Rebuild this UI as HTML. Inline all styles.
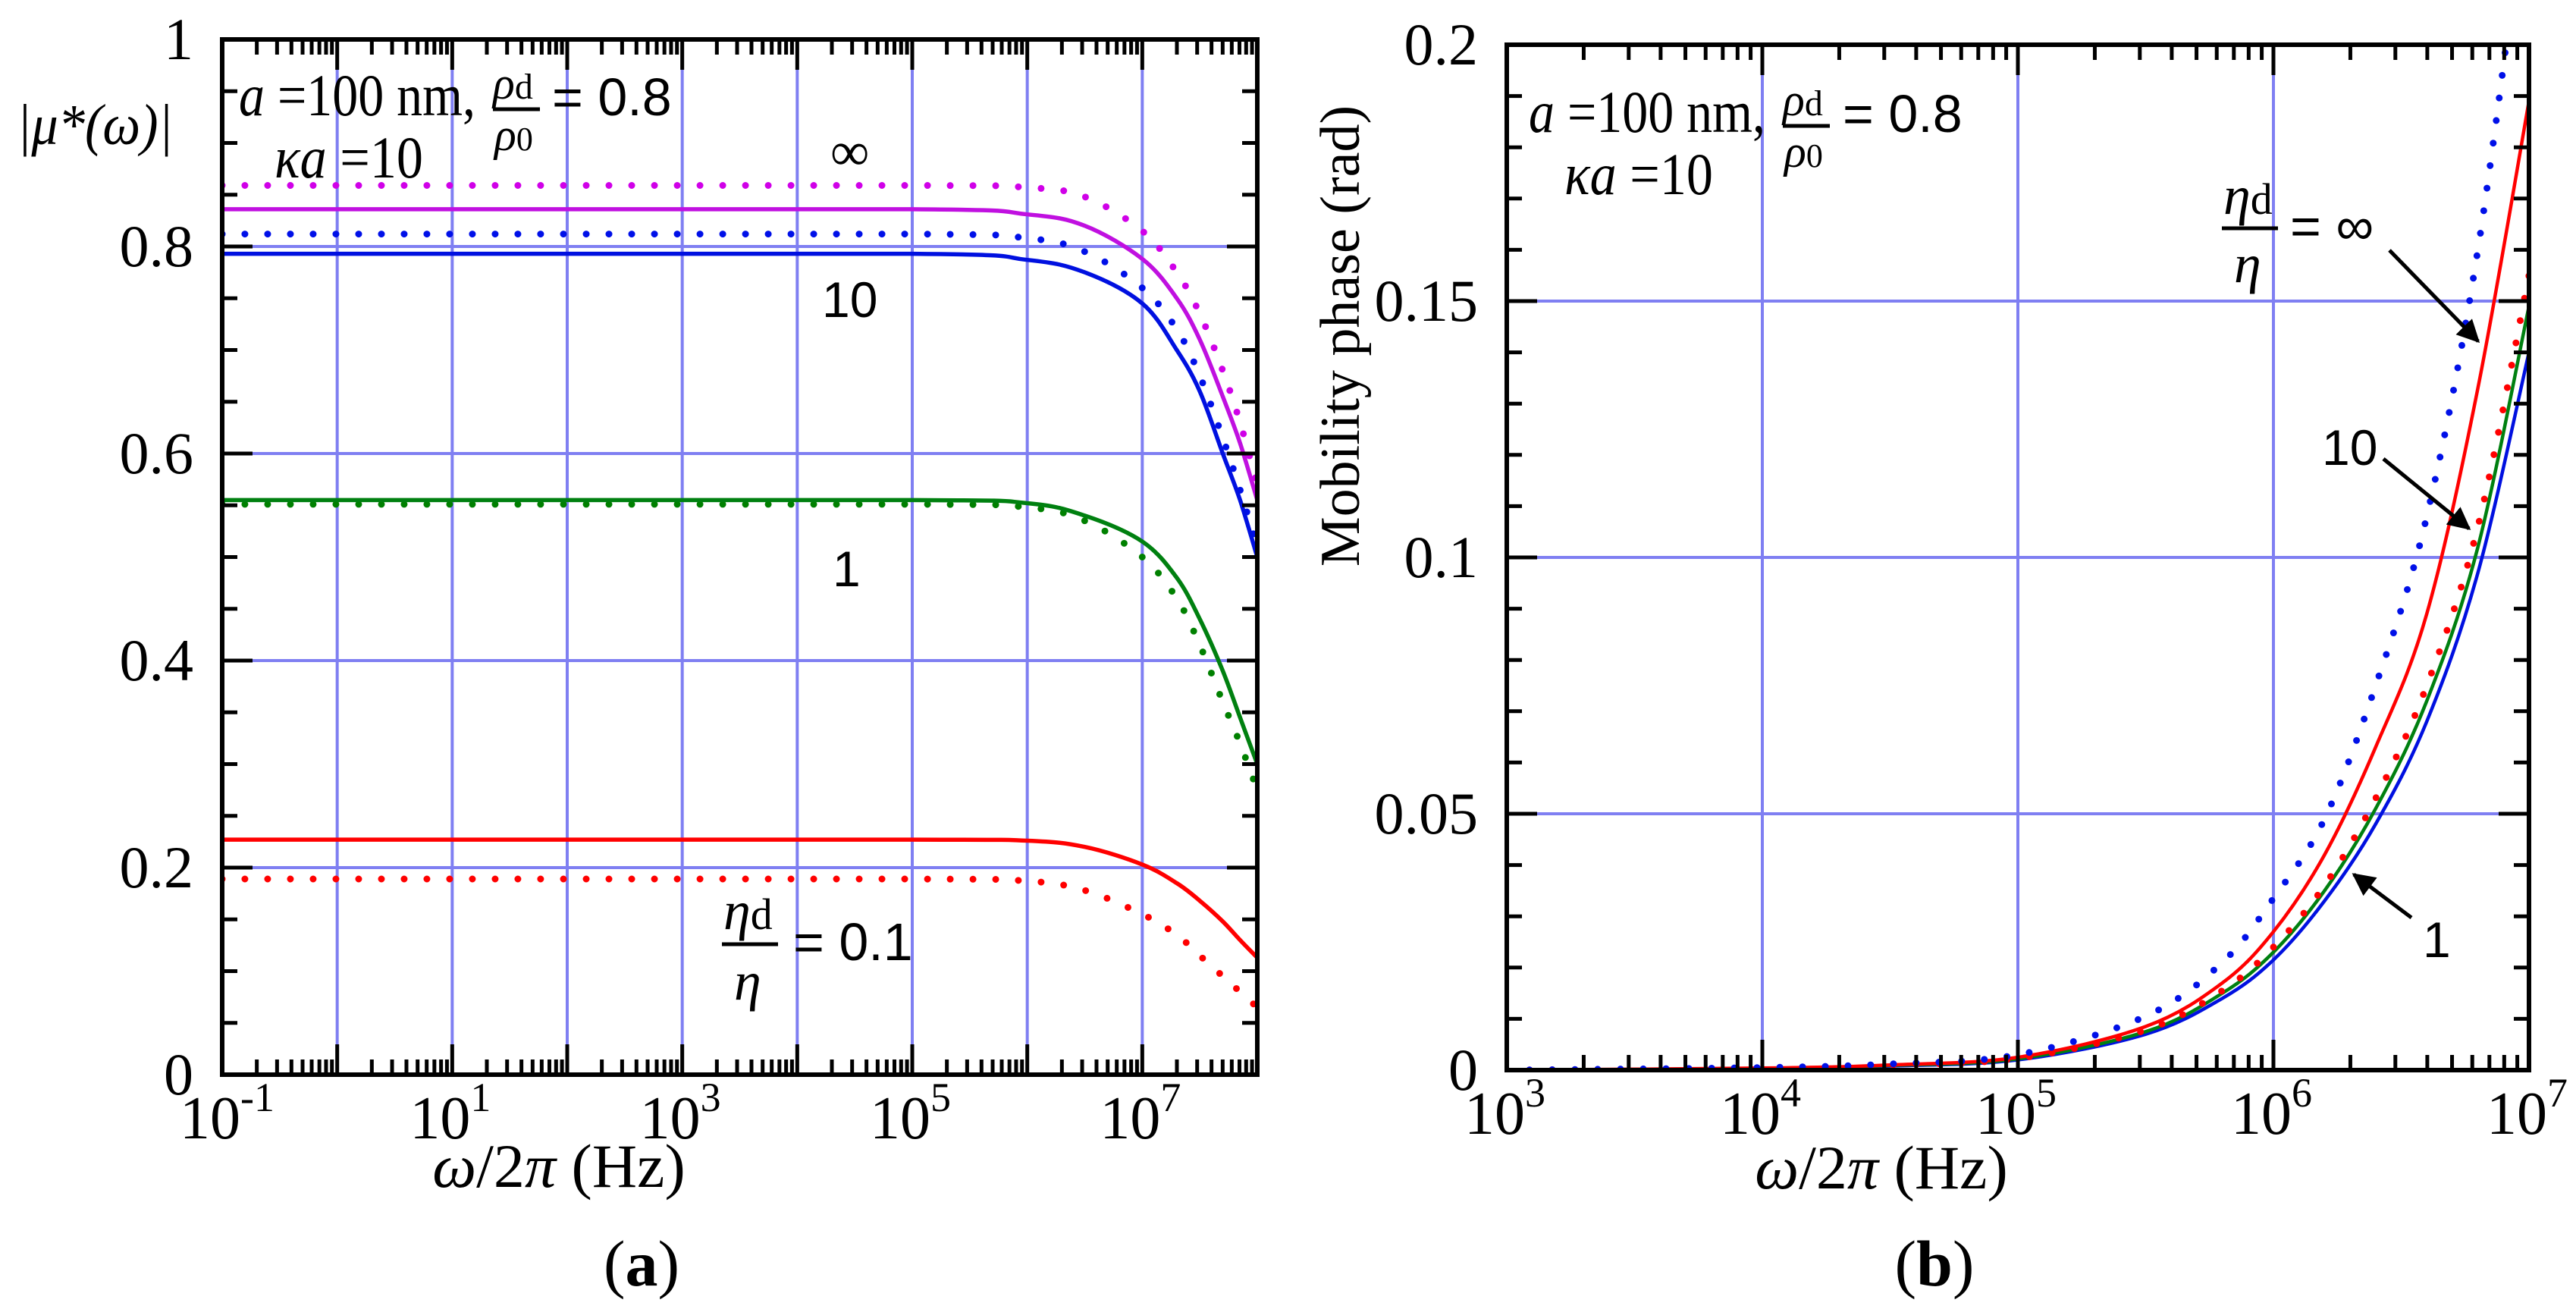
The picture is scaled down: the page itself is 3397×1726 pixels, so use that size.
<!DOCTYPE html>
<html><head><meta charset="utf-8">
<style>
html,body{margin:0;padding:0;background:#fff;}
svg{display:block;}
.serif{font-family:"Liberation Serif",serif;}
.sans{font-family:"Liberation Sans",sans-serif;}
</style></head>
<body>
<svg id="fig" width="3397" height="1726" viewBox="0 0 3397 1726" xmlns="http://www.w3.org/2000/svg">
<defs>
<marker id="ah" viewBox="0 0 10 10" refX="9" refY="5" markerWidth="6" markerHeight="6" orient="auto"><path d="M0,0 L10,5 L0,10 z" fill="#000"/></marker>
</defs>
<g id="gridA"></g>
<g id="seriesA"></g>
<g id="axesA"></g>
<g id="gridB"></g>
<g id="seriesB"></g>
<g id="axesB"></g>

<!-- Panel (a) text -->
<text class="serif" x="22" y="190" font-size="76" font-style="italic" textLength="206" lengthAdjust="spacingAndGlyphs">|μ*(ω)|</text>
<text class="serif" x="315" y="152" font-size="78" textLength="312" lengthAdjust="spacingAndGlyphs"><tspan font-style="italic">a</tspan> =100 nm,</text>
<text class="serif" x="650" y="130" font-size="60" font-style="italic">ρ<tspan font-style="normal" font-size="48">d</tspan></text>
<line x1="650" y1="144" x2="712" y2="144" stroke="#000" stroke-width="5"/>
<text class="serif" x="652" y="198" font-size="60" font-style="italic">ρ<tspan font-style="normal" font-size="44">0</tspan></text>
<text class="sans" x="728" y="152" font-size="70">= 0.8</text>
<text class="serif" x="362" y="234" font-size="78" textLength="196" lengthAdjust="spacingAndGlyphs"><tspan font-style="italic">κa</tspan> =10</text>
<text class="serif" x="1095" y="224" font-size="72">∞</text>
<text class="sans" x="1084" y="418" font-size="66">10</text>
<text class="sans" x="1098" y="773" font-size="66">1</text>
<text class="serif" x="954" y="1225" font-size="72" font-style="italic">η<tspan font-style="normal" font-size="58">d</tspan></text>
<line x1="952" y1="1245" x2="1026" y2="1245" stroke="#000" stroke-width="5"/>
<text class="serif" x="968" y="1318" font-size="72" font-style="italic">η</text>
<text class="sans" x="1046" y="1266" font-size="70">= 0.1</text>
<text class="serif" x="737" y="1565" font-size="82" text-anchor="middle"><tspan font-style="italic">ω</tspan>/2<tspan font-style="italic">π</tspan> (Hz)</text>
<text class="serif" x="846" y="1695" font-size="86" text-anchor="middle">(<tspan font-weight="bold">a</tspan>)</text>

<!-- Panel (b) text -->
<text class="serif" x="0" y="0" font-size="74" text-anchor="middle" transform="translate(1792,443) rotate(-90)">Mobility phase (rad)</text>
<text class="serif" x="2016" y="174" font-size="78" textLength="312" lengthAdjust="spacingAndGlyphs"><tspan font-style="italic">a</tspan> =100 nm,</text>
<text class="serif" x="2351" y="152" font-size="60" font-style="italic">ρ<tspan font-style="normal" font-size="48">d</tspan></text>
<line x1="2351" y1="166" x2="2413" y2="166" stroke="#000" stroke-width="5"/>
<text class="serif" x="2353" y="220" font-size="60" font-style="italic">ρ<tspan font-style="normal" font-size="44">0</tspan></text>
<text class="sans" x="2430" y="174" font-size="70">= 0.8</text>
<text class="serif" x="2063" y="256" font-size="78" textLength="196" lengthAdjust="spacingAndGlyphs"><tspan font-style="italic">κa</tspan> =10</text>
<text class="serif" x="2932" y="282" font-size="72" font-style="italic">η<tspan font-style="normal" font-size="58">d</tspan></text>
<line x1="2930" y1="301" x2="3004" y2="301" stroke="#000" stroke-width="5"/>
<text class="serif" x="2946" y="372" font-size="72" font-style="italic">η</text>
<text class="sans" x="3020" y="322" font-size="70">= ∞</text>
<line x1="3151" y1="330" x2="3268" y2="450" stroke="#000" stroke-width="5" marker-end="url(#ah)"/>
<text class="sans" x="3062" y="613" font-size="66">10</text>
<line x1="3143" y1="605" x2="3256" y2="697" stroke="#000" stroke-width="5" marker-end="url(#ah)"/>
<text class="sans" x="3195" y="1262" font-size="66">1</text>
<line x1="3180" y1="1210" x2="3104" y2="1153" stroke="#000" stroke-width="5" marker-end="url(#ah)"/>
<text class="serif" x="2481" y="1567" font-size="82" text-anchor="middle"><tspan font-style="italic">ω</tspan>/2<tspan font-style="italic">π</tspan> (Hz)</text>
<text class="serif" x="2551" y="1695" font-size="86" text-anchor="middle">(<tspan font-weight="bold">b</tspan>)</text>
</svg>
<script>
// ---- Panel (a) data: |mu*| vs log10(f) ----
const aLogF = [-1, 5, 6, 6.5, 7, 7.3, 7.5, 7.7, 7.85, 8];
const aMagSolid = [0.836, 0.836, 0.831, 0.82, 0.788, 0.75, 0.71, 0.655, 0.61, 0.555];
const aMagDot   = [0.859, 0.859, 0.857, 0.848, 0.815, 0.775, 0.735, 0.68, 0.63, 0.57];
const aBlueSolid= [0.793, 0.793, 0.787, 0.775, 0.745, 0.70, 0.66, 0.60, 0.555, 0.50];
const aBlueDot  = [0.812, 0.812, 0.808, 0.795, 0.76, 0.72, 0.675, 0.615, 0.565, 0.51];
const aGreenSolid=[0.555, 0.555, 0.552, 0.54, 0.515, 0.48, 0.44, 0.39, 0.345, 0.30];
const aGreenDot = [0.551, 0.551, 0.548, 0.535, 0.50, 0.46, 0.415, 0.36, 0.32, 0.275];
const aRedSolid = [0.227, 0.227, 0.226, 0.22, 0.203, 0.185, 0.168, 0.148, 0.13, 0.113];
const aRedDot   = [0.189, 0.189, 0.187, 0.178, 0.155, 0.135, 0.115, 0.095, 0.08, 0.065];
const aYTicks = ["0","0.2","0.4","0.6","0.8","1"];
const aXLabelExp = ["-1","1","3","5","7"];

// ---- Panel (b) data: phase vs log10(f) ----
const bLogF = [3, 4, 4.5, 5, 5.5, 5.8, 6, 6.2, 6.4, 6.6, 6.8, 7];
const bBlueDot  = [0, 0.0005, 0.0012, 0.003, 0.0105, 0.021, 0.0335, 0.049, 0.075, 0.108, 0.16, 0.235];
const bRedSolid = [0, 0.0004, 0.001, 0.0025, 0.0085, 0.017, 0.027, 0.042, 0.063, 0.089, 0.133, 0.189];
const bRedDot   = [0, 0.0004, 0.001, 0.0023, 0.0078, 0.0155, 0.024, 0.036, 0.053, 0.075, 0.106, 0.155];
const bGreenSolid=[0, 0.0003, 0.0009, 0.0022, 0.0075, 0.015, 0.023, 0.035, 0.051, 0.072, 0.102, 0.149];
const bBlueSolid= [0, 0.0003, 0.0008, 0.002, 0.007, 0.014, 0.0215, 0.033, 0.048, 0.068, 0.097, 0.14];
const bYTicks = ["0","0.05","0.1","0.15","0.2"];
const bXLabelExp = ["3","4","5","6","7"];

const NS = "http://www.w3.org/2000/svg";
const GRID = "#7f7ff2";
function mk(tag, attrs, parent){const e=document.createElementNS(NS,tag);for(const k in attrs)e.setAttribute(k,attrs[k]);parent.appendChild(e);return e;}
// monotone-ish Catmull-Rom smoothing
function smooth(pts){
  let d="M"+pts[0][0].toFixed(1)+","+pts[0][1].toFixed(1);
  for(let i=0;i<pts.length-1;i++){
    const p0=pts[Math.max(0,i-1)],p1=pts[i],p2=pts[i+1],p3=pts[Math.min(pts.length-1,i+2)];
    const t=1/6;
    let c1=[p1[0]+(p2[0]-p0[0])*t,p1[1]+(p2[1]-p0[1])*t];
    let c2=[p2[0]-(p3[0]-p1[0])*t,p2[1]-(p3[1]-p1[1])*t];
    c1[0]=Math.min(Math.max(c1[0],p1[0]),p2[0]); c2[0]=Math.min(Math.max(c2[0],p1[0]),p2[0]);
    const lo=Math.min(p1[1],p2[1]),hi=Math.max(p1[1],p2[1]);
    c1[1]=Math.min(Math.max(c1[1],lo),hi); c2[1]=Math.min(Math.max(c2[1],lo),hi);
    d+=`C${c1[0].toFixed(1)},${c1[1].toFixed(1)} ${c2[0].toFixed(1)},${c2[1].toFixed(1)} ${p2[0].toFixed(1)},${p2[1].toFixed(1)}`;
  }
  return d;
}

function panel(o){
  const xs = v => o.x0 + (v - o.xmin)/(o.xmax - o.xmin)*(o.x1 - o.x0);
  const ys = v => o.y1 - (v - o.ymin)/(o.ymax - o.ymin)*(o.y1 - o.y0);
  const grid = document.getElementById(o.grid), ax = document.getElementById(o.axes), ser = document.getElementById(o.series);
  for(let d=Math.ceil(o.xmin); d<o.xmax; d++){ if(d<=o.xmin) continue;
    const l=mk("line",{x1:xs(d),x2:xs(d),y1:o.y0,y2:o.y1,stroke:GRID,"stroke-width":4},grid);
    
    
  }
  o.yt.forEach(t=>{const v=parseFloat(t); if(v<=o.ymin||v>=o.ymax) return;
    const l=mk("line",{x1:o.x0,x2:o.x1,y1:ys(v),y2:ys(v),stroke:GRID,"stroke-width":4},grid);
    
    
  });
  o.ser.forEach(s=>{
    const pts=s.v.map((v,i)=>[xs(o.lx[i]),ys(v)]);
    const a={d:smooth(pts),fill:"none",stroke:s.c,"stroke-width":s.dot?9:o.lw,"stroke-linejoin":"round","clip-path":"url(#"+o.clip+")"};
    if(s.dot){a["stroke-dasharray"]="0 30";a["stroke-linecap"]="round";}
    const p=mk("path",a,ser);
    
    
  });
  let td="";
  for(let d=Math.floor(o.xmin); d<o.xmax; d++){
    for(let m=1;m<10;m++){const lv=d+Math.log10(m); if(lv<o.xmin-1e-9||lv>o.xmax+1e-9) continue;
      const L=(m==1)?40:20; const x=xs(lv);
      td+=`M${x},${o.y1}v${-L}M${x},${o.y0}v${L}`;}
  }
  for(let v=o.ymin; v<=o.ymax+1e-9; v+=o.minor){
    const isMaj=o.yt.some(t=>Math.abs(parseFloat(t)-v)<1e-9); const L=isMaj?40:20; const y=ys(v);
    td+=`M${o.x0},${y}h${L}M${o.x1},${y}h${-L}`;
  }
  const tk=mk("path",{d:td,stroke:"#000","stroke-width":5,fill:"none"},ax);
  
  
  const fr=mk("rect",{x:o.x0,y:o.y0,width:o.x1-o.x0,height:o.y1-o.y0,fill:"none",stroke:"#000","stroke-width":6},ax);
  
  
  o.yt.forEach(t=>{
    const e=mk("text",{x:o.x0-38,y:ys(parseFloat(t))+26,"font-size":78,"text-anchor":"end","font-family":"Liberation Serif, serif"},ax);
    e.textContent=t;
    
    
  });
  o.xl.forEach(ex=>{
    const x=xs(parseFloat(ex));
    const e=mk("text",{x:x-56,y:o.y1+84,"font-size":80,"font-family":"Liberation Serif, serif"},ax);
    e.textContent="10";
    
    
    const s=mk("tspan",{dy:-36,"font-size":54},e); s.textContent=ex;
  });
}
const defs=document.querySelector("defs");
mk("rect",{x:293,y:52,width:1365,height:1365},mk("clipPath",{id:"clipA"},defs));
mk("rect",{x:1987,y:59,width:1348,height:1352},mk("clipPath",{id:"clipB"},defs));

panel({x0:293,x1:1658,y0:52,y1:1417,xmin:-1,xmax:8,ymin:0,ymax:1,minor:0.05,lw:5.5,
  grid:"gridA",axes:"axesA",series:"seriesA",clip:"clipA",lx:aLogF,yt:aYTicks,xl:aXLabelExp,
  ser:[{v:aMagDot,c:"#d000e8",dot:1,n:"magenta-dotted-inf"},{v:aMagSolid,c:"#c010e0",n:"magenta-solid-inf"},
       {v:aBlueDot,c:"#0010e8",dot:1,n:"blue-dotted-10"},{v:aBlueSolid,c:"#0010e0",n:"blue-solid-10"},
       {v:aGreenDot,c:"#008000",dot:1,n:"green-dotted-1"},{v:aGreenSolid,c:"#008010",n:"green-solid-1"},
       {v:aRedDot,c:"#ff0000",dot:1,n:"red-dotted-0.1"},{v:aRedSolid,c:"#ff0000",n:"red-solid-0.1"}]});
panel({x0:1987,x1:3335,y0:59,y1:1411,xmin:3,xmax:7,ymin:0,ymax:0.2,minor:0.01,lw:4.5,
  grid:"gridB",axes:"axesB",series:"seriesB",clip:"clipB",lx:bLogF,yt:bYTicks,xl:bXLabelExp,
  ser:[{v:bBlueSolid,c:"#0010e0",n:"blue-solid-1"},{v:bGreenSolid,c:"#008010",n:"green-solid-10"},
       {v:bRedDot,c:"#ff0000",dot:1,n:"red-dotted"},{v:bRedSolid,c:"#ff0000",n:"red-solid-inf"},
       {v:bBlueDot,c:"#0010e8",dot:1,n:"blue-dotted-inf"}]});
</script>
</body></html>
